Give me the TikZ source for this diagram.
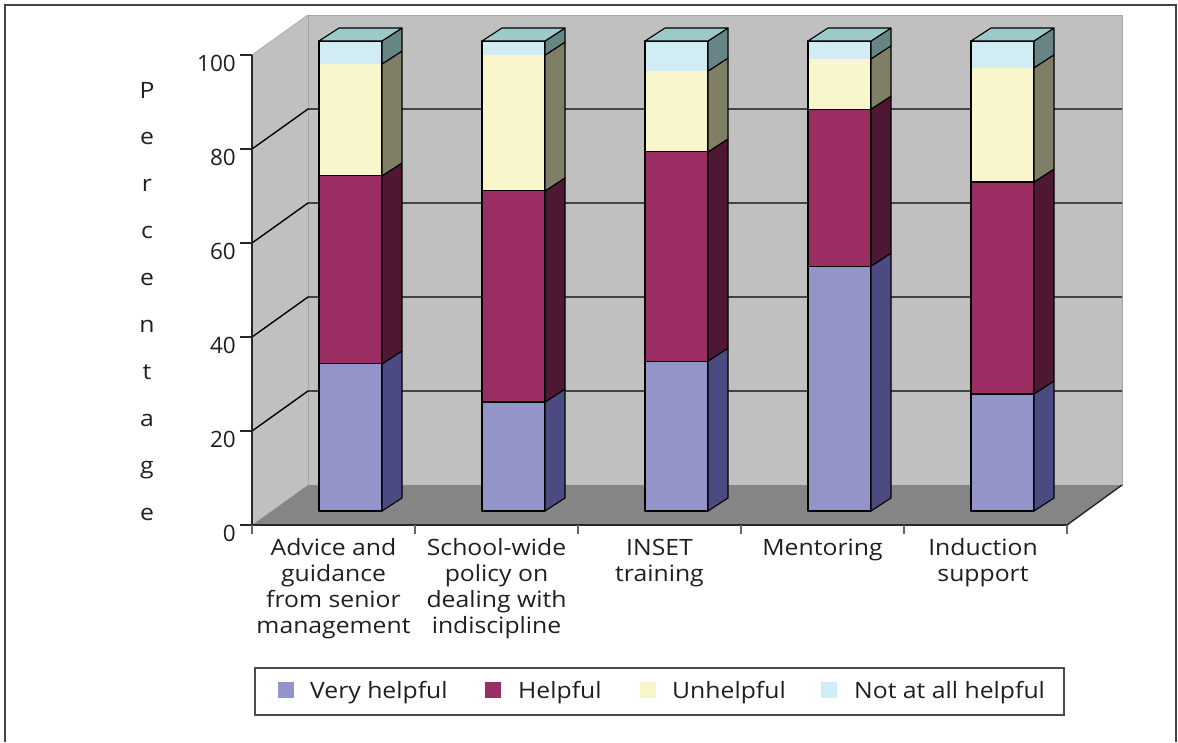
\documentclass[tikz,border=0pt]{standalone}
\usepackage{fontspec}
\setmainfont{Open Sans}
\newfontfamily\widefont{Open Sans}[FakeStretch=1.1]
\definecolor{vhf}{HTML}{9395C9}
\definecolor{vhs}{HTML}{4B4B82}
\definecolor{hf}{HTML}{9A2E62}
\definecolor{hs}{HTML}{4E1834}
\definecolor{uf}{HTML}{FAF6CC}
\definecolor{us}{HTML}{7F7F66}
\definecolor{nf}{HTML}{D2ECF3}
\definecolor{ns}{HTML}{678585}
\definecolor{nt}{HTML}{9CC9C9}
\definecolor{wallc}{HTML}{C0C0C0}
\definecolor{floorc}{HTML}{858585}
\definecolor{framec}{HTML}{444444}
\begin{document}
\begin{tikzpicture}[x=1pt,y=-1pt,
  txt/.style={font=\fontsize{22.5}{26}\selectfont, inner sep=0pt, text=black!88},
  wtxt/.style={font=\widefont\fontsize{22.5}{26}\selectfont, inner sep=0pt, text=black!88},
  edge/.style={draw=black, line width=1.1pt, line join=round},
  grid/.style={draw=black, line width=1.4pt},
  axis/.style={draw=black!85, line width=2pt},
]
\useasboundingbox (0,0) rectangle (1178,742);
% walls and floor
\fill[wallc] (252,525) -- (252,55) -- (308,15) -- (308,485) -- cycle;
\draw[black!30, line width=1pt] (252,55) -- (308,15);
\filldraw[fill=wallc, draw=black!35, line width=1pt] (308,15) rectangle (1122,485);
\fill[floorc] (252,525) -- (1067,525) -- (1122,485) -- (308,485) -- cycle;
% gridlines
\foreach \v in {20,40,60,80}{
  \draw[grid] (252,{525-4.7*\v}) -- (308,{485-4.7*\v}) -- (1122,{485-4.7*\v});
}
% axes
\draw[axis] (252,55) -- (252,526);
\draw[axis] (251,525) -- (1067,525);
\draw[black!85, line width=1.4pt] (1067,525) -- (1122,485);
\foreach \v in {0,20,...,100}{
  \draw[black!85, line width=1.5pt] (240,{525-4.7*\v}) -- (252,{525-4.7*\v});
  \node[txt, anchor=east] (yl\v) at (236,{533-4.7*\v}) {\v};
}
\foreach \k in {0,...,5}{
  \draw[black!60, line width=1.5pt] ({252+163*\k},525) -- ({252+163*\k},534);
}
% bars
\foreach \i/\a/\b/\c in {0/31.3/71.3/95.1, 1/23.2/68.1/97.0, 2/31.9/76.4/93.6, 3/52.1/85.5/96.2, 4/24.9/70.0/94.3}{
  \pgfmathsetmacro\L{319+163*\i}
  \pgfmathsetmacro\R{\L+63}
  \pgfmathsetmacro\ya{511-4.7*\a}
  \pgfmathsetmacro\yb{511-4.7*\b}
  \pgfmathsetmacro\yc{511-4.7*\c}
  \fill[vhf] (\L,511) rectangle (\R,\ya);
  \fill[hf] (\L,\ya) rectangle (\R,\yb);
  \fill[uf] (\L,\yb) rectangle (\R,\yc);
  \fill[nf] (\L,\yc) rectangle (\R,41);
  \draw[edge] (\L,511) rectangle (\R,41);
  \draw[edge] (\L,\ya) -- (\R,\ya);
  \draw[edge] (\L,\yb) -- (\R,\yb);
  \filldraw[fill=vhs, edge] (\R,511) -- ({\R+20},498) -- ({\R+20},{\ya-13}) -- (\R,\ya) -- cycle;
  \filldraw[fill=hs, edge] (\R,\ya) -- ({\R+20},{\ya-13}) -- ({\R+20},{\yb-13}) -- (\R,\yb) -- cycle;
  \filldraw[fill=us, edge] (\R,\yb) -- ({\R+20},{\yb-13}) -- ({\R+20},{\yc-13}) -- (\R,\yc) -- cycle;
  \filldraw[fill=ns, edge] (\R,\yc) -- ({\R+20},{\yc-13}) -- ({\R+20},28) -- (\R,41) -- cycle;
  \filldraw[fill=nt, edge] (\L,41) -- (\R,41) -- ({\R+20},28) -- ({\L+20},28) -- cycle;
}
% axis title
\foreach \ch [count=\k from 0] in {P,e,r,c,e,n,t,a,g,e}{
  \node[wtxt, anchor=base] (p\k) at (147,{98+46.9*\k}) {\ch};
}
% category labels (anchor=base is the last line's baseline)
\node[wtxt, anchor=base, align=center] (c1) at (333.5,633) {Advice and\\guidance\\from senior\\management};
\node[wtxt, anchor=base, align=center] (c2) at (496.5,633) {School-wide\\policy on\\dealing with\\indiscipline};
\node[wtxt, anchor=base, align=center] (c3) at (659.5,581) {INSET\\training};
\node[wtxt, anchor=base, align=center] (c4) at (822.5,555) {Mentoring};
\node[wtxt, anchor=base, align=center] (c5) at (983,581) {Induction\\support};
% legend
\draw[black!70, line width=1.5pt] (255,668) rectangle (1064,715);
\fill[vhf] (278,682) rectangle (294,698);
\fill[hf] (485,682) rectangle (501,698);
\fill[uf] (640,682) rectangle (656,698);
\fill[nf] (821,682) rectangle (837,698);
\node[wtxt, anchor=base west] (l1) at (310,698) {Very helpful};
\node[wtxt, anchor=base west] (l2) at (518,698) {Helpful};
\node[wtxt, anchor=base west] (l3) at (672,698) {Unhelpful};
\node[wtxt, anchor=base west] (l4) at (854,698) {Not at all helpful};
% frame
\draw[framec, line width=1.5pt] (5,742) -- (5,5) -- (1176,5) -- (1176,742);
\end{tikzpicture}
\end{document}
